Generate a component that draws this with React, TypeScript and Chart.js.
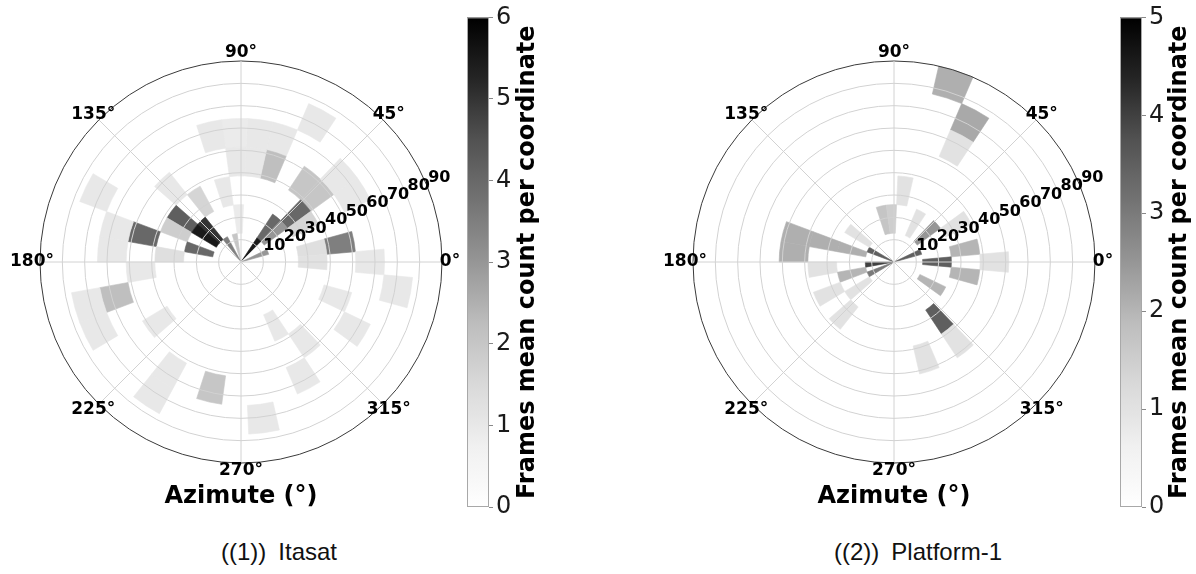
import React, { useEffect, useRef } from 'react';
import { Chart, registerables } from 'chart.js';

Chart.register(...registerables);

// ---------- data ----------
const AZ_BIN_COUNT = 35; // azimuth bins over 360°
const R_BIN_COUNT = 7; // radial bins over 0..90
const R_MAX = 90;
const ANGLE_LABELS = ['90°', '45°', '0°', '315°', '270°', '225°', '180°', '135°'];
const RADIAL_TICKS = [10, 20, 30, 40, 50, 60, 70, 80, 90];
const CBAR_TITLE = 'Frames mean count per coordinate';
const AXIS_TITLE = 'Azimute (°)';

// Itasat
const ITASAT_MAX = 6;
const ITASAT_AZ_BIN = [6, 7, 8, 9, 7, 8, 9, 10, 10, 9, 10, 5, 4, 3, 4, 4, 3, 5, 4, 5, 2, 1, 1, 0, 0, 13, 12, 14, 15, 13, 14, 16, 16, 16, 17, 15, 17, 18, 19, 19, 20, 21, 23, 23, 25, 34, 33, 32, 29, 30, 29, 27, 12];
const ITASAT_R_BIN = [5, 4, 4, 4, 3, 3, 3, 4, 2, 1, 0, 3, 3, 4, 4, 2, 2, 1, 1, 0, 0, 3, 2, 2, 4, 3, 2, 2, 2, 1, 1, 1, 3, 4, 4, 5, 2, 3, 4, 5, 5, 3, 4, 5, 4, 5, 3, 4, 2, 3, 4, 5, 0];
const ITASAT_COUNT = [1.0, 1.0, 1.0, 0.9, 2.2, 1.0, 1.0, 1.0, 1.0, 0.9, 2.0, 2.0, 2.0, 1.0, 1.0, 4.0, 1.6, 4.0, 3.0, 5.5, 3.0, 3.5, 1.3, 1.2, 1.0, 1.0, 1.6, 4.2, 1.8, 5.0, 5.5, 4.0, 4.0, 1.0, 1.0, 1.0, 1.3, 1.0, 2.2, 1.0, 1.0, 1.0, 1.0, 1.0, 2.0, 1.0, 1.0, 1.0, 1.0, 1.0, 1.0, 1.0, 3.5];

// Platform-1
const PLATFORM_MAX = 5;
const PLATFORM_AZ_BIN = [7, 6, 6, 8, 6, 4, 3, 1, 0, 0, 2, 34, 32, 30, 30, 28, 16, 17, 16, 16, 15, 14, 10, 9, 18, 19, 18, 20, 21, 22, 20];
const PLATFORM_R_BIN = [6, 5, 4, 2, 1, 1, 2, 2, 3, 1, 0, 2, 1, 2, 3, 3, 3, 3, 2, 1, 0, 1, 1, 1, 2, 1, 0, 2, 1, 2, 0];
const PLATFORM_COUNT = [2.1, 2.2, 1.0, 1.0, 1.0, 2.5, 1.0, 2.0, 1.0, 3.5, 3.5, 2.0, 2.0, 3.5, 1.0, 1.0, 2.1, 2.1, 2.1, 2.1, 3.5, 1.0, 1.7, 1.5, 1.0, 2.0, 4.0, 1.0, 1.0, 1.0, 3.0];

// ---------- helpers ----------
const GREYS = [1, 0.94117647, 0.85098039, 0.74117647, 0.58823529, 0.45098039, 0.32156863, 0.14509804, 0];
function greys(t: number): string {
  const c = Math.max(0, Math.min(1, t)) * 8;
  const i = Math.min(7, Math.floor(c));
  const f = c - i;
  const g = Math.round((GREYS[i] * (1 - f) + GREYS[i + 1] * f) * 255);
  return `rgb(${g},${g},${g})`;
}

const FAMILY = '"DejaVu Sans", sans-serif';
const font = (s: number, bold = true) => `${bold ? 'bold ' : ''}${s}px ${FAMILY}`;

function makePolarPlugin(az: number[], rb: number[], vals: number[], vmax: number) {
  return {
    id: 'polarHeat',
    beforeDraw(chart: any) {
      const s = chart.scales.r;
      const ctx = chart.ctx;
      const cx = s.xCenter;
      const cy = s.yCenter;
      const azW = 360 / AZ_BIN_COUNT;
      const rW = R_MAX / R_BIN_COUNT;
      ctx.save();
      for (let i = 0; i < vals.length; i++) {
        const a0 = ((az[i] - 0.5) * azW * Math.PI) / 180;
        const a1 = ((az[i] + 0.5) * azW * Math.PI) / 180;
        const r0 = s.getDistanceFromCenterForValue(rb[i] * rW);
        const r1 = s.getDistanceFromCenterForValue((rb[i] + 1) * rW);
        ctx.beginPath();
        ctx.arc(cx, cy, r1, -a0, -a1, true);
        ctx.arc(cx, cy, r0, -a1, -a0, false);
        ctx.closePath();
        const col = greys(vals[i] / vmax);
        ctx.fillStyle = col;
        ctx.strokeStyle = col;
        ctx.lineWidth = 0.6;
        ctx.fill();
        ctx.stroke();
      }
      ctx.restore();
    },
    afterDraw(chart: any) {
      const s = chart.scales.r;
      const ctx = chart.ctx;
      const cx = s.xCenter;
      const cy = s.yCenter;
      ctx.save();
      ctx.fillStyle = '#000';
      ctx.font = font(17);
      ctx.textAlign = 'center';
      ctx.textBaseline = 'middle';
      for (let i = 0; i < ANGLE_LABELS.length; i++) {
        const p = s.getPointPosition(i, s.drawingArea + 8);
        ctx.fillText(ANGLE_LABELS[i], p.x, p.y);
      }
      ctx.font = font(16);
      ctx.textAlign = 'left';
      ctx.textBaseline = 'alphabetic';
      const ang = (22.5 * Math.PI) / 180;
      for (const v of RADIAL_TICKS) {
        const d = s.getDistanceFromCenterForValue(v);
        ctx.fillText(String(v), cx + d * Math.cos(ang) + 1.5, cy - d * Math.sin(ang) - 3.5);
      }
      ctx.font = font(24);
      ctx.textAlign = 'center';
      ctx.fillText(AXIS_TITLE, cx, 503);
      ctx.restore();
    },
  };
}

function PolarHeat(props: { left: number; az: number[]; rb: number[]; vals: number[]; vmax: number }) {
  const ref = useRef<HTMLCanvasElement>(null);
  useEffect(() => {
    const chart = new Chart(ref.current as HTMLCanvasElement, {
      type: 'radar',
      data: {
        labels: ANGLE_LABELS,
        datasets: [{ data: ANGLE_LABELS.map(() => 0), pointRadius: 0, borderWidth: 0, backgroundColor: 'rgba(0,0,0,0)' }],
      },
      options: {
        responsive: false,
        animation: false,
        devicePixelRatio: 1,
        layout: { padding: { left: 40, top: 61, right: 28, bottom: 67 } },
        plugins: { legend: { display: false }, tooltip: { enabled: false } },
        scales: {
          r: {
            min: 0,
            max: R_MAX,
            startAngle: 0,
            ticks: { stepSize: 10, display: false },
            grid: {
              circular: true,
              color: (c: any) => (c.tick && c.tick.value === R_MAX ? '#3a3a3a' : '#d2d2d2'),
              lineWidth: 1,
            },
            angleLines: { color: '#d2d2d2', lineWidth: 1 },
            pointLabels: { display: false },
          },
        },
      } as any,
      plugins: [makePolarPlugin(props.az, props.rb, props.vals, props.vmax)],
    });
    return () => chart.destroy();
  }, []);
  return (
    <canvas
      ref={ref}
      width={470}
      height={530}
      style={{ position: 'absolute', left: props.left, top: 0, width: 470, height: 530 }}
    />
  );
}

function ColorBar(props: { left: number; width: number; vmax: number; titleX: number }) {
  const ref = useRef<HTMLCanvasElement>(null);
  useEffect(() => {
    const PADL = 27;
    const BARW = 22;
    const titlePlugin = {
      id: 'cbarTitle',
      afterDraw(chart: any) {
        const ctx = chart.ctx;
        const a = chart.chartArea;
        ctx.save();
        ctx.strokeStyle = '#a8a8a8';
        ctx.lineWidth = 1;
        ctx.strokeRect(a.left + 0.5, a.top + 0.5, a.right - a.left - 1, a.bottom - a.top - 1);
        ctx.translate(props.titleX, (a.top + a.bottom) / 2);
        ctx.rotate(-Math.PI / 2);
        ctx.font = font(24);
        ctx.fillStyle = '#000';
        ctx.textAlign = 'center';
        ctx.textBaseline = 'middle';
        ctx.fillText(CBAR_TITLE, 0, 0);
        ctx.restore();
      },
    };
    const chart = new Chart(ref.current as HTMLCanvasElement, {
      type: 'bar',
      data: {
        labels: [''],
        datasets: [
          {
            data: [props.vmax],
            barPercentage: 1,
            categoryPercentage: 1,
            borderWidth: 0,
            backgroundColor: (c: any) => {
              const area = c.chart.chartArea;
              if (!area) return '#999';
              const g = c.chart.ctx.createLinearGradient(0, area.bottom, 0, area.top);
              for (let i = 0; i <= 32; i++) g.addColorStop(i / 32, greys(i / 32));
              return g;
            },
          },
        ],
      },
      options: {
        responsive: false,
        animation: false,
        devicePixelRatio: 1,
        layout: { padding: { left: PADL, top: 17, right: 0, bottom: 67 } },
        plugins: { legend: { display: false }, tooltip: { enabled: false } },
        scales: {
          x: { display: false },
          y: {
            position: 'right',
            min: 0,
            max: props.vmax,
            ticks: { stepSize: 1, font: { family: FAMILY, size: 24 }, color: '#1a1a1a', padding: 3 },
            grid: { drawOnChartArea: false, drawTicks: true, tickLength: 4, color: '#888' },
            border: { display: false },
            afterFit: (sc: any) => {
              sc.width = props.width - PADL - BARW;
            },
          },
        },
      } as any,
      plugins: [titlePlugin],
    });
    return () => chart.destroy();
  }, []);
  return (
    <canvas
      ref={ref}
      width={props.width}
      height={574}
      style={{ position: 'absolute', left: props.left, top: 0, width: props.width, height: 574 }}
    />
  );
}

const captionStyle = (cx: number): React.CSSProperties => ({
  position: 'absolute',
  left: cx - 150,
  width: 300,
  top: 537,
  textAlign: 'center',
  fontFamily: '"Liberation Sans", Arial, sans-serif',
  fontSize: 24,
  lineHeight: '30px',
  color: '#111',
  whiteSpace: 'pre',
});

export default function App() {
  return (
    <div style={{ position: 'absolute', left: 0, top: 0, width: 1196, height: 574, background: '#fff', overflow: 'hidden' }}>
      <PolarHeat left={0} az={ITASAT_AZ_BIN} rb={ITASAT_R_BIN} vals={ITASAT_COUNT} vmax={ITASAT_MAX} />
      <ColorBar left={440} width={120} vmax={ITASAT_MAX} titleX={88} />
      <PolarHeat left={653} az={PLATFORM_AZ_BIN} rb={PLATFORM_R_BIN} vals={PLATFORM_COUNT} vmax={PLATFORM_MAX} />
      <ColorBar left={1093} width={103} vmax={PLATFORM_MAX} titleX={87} />
      <div style={captionStyle(279)}>{'((1))\u2002Itasat'}</div>
      <div style={captionStyle(918)}>{'((2))\u2002Platform-1'}</div>
    </div>
  );
}
